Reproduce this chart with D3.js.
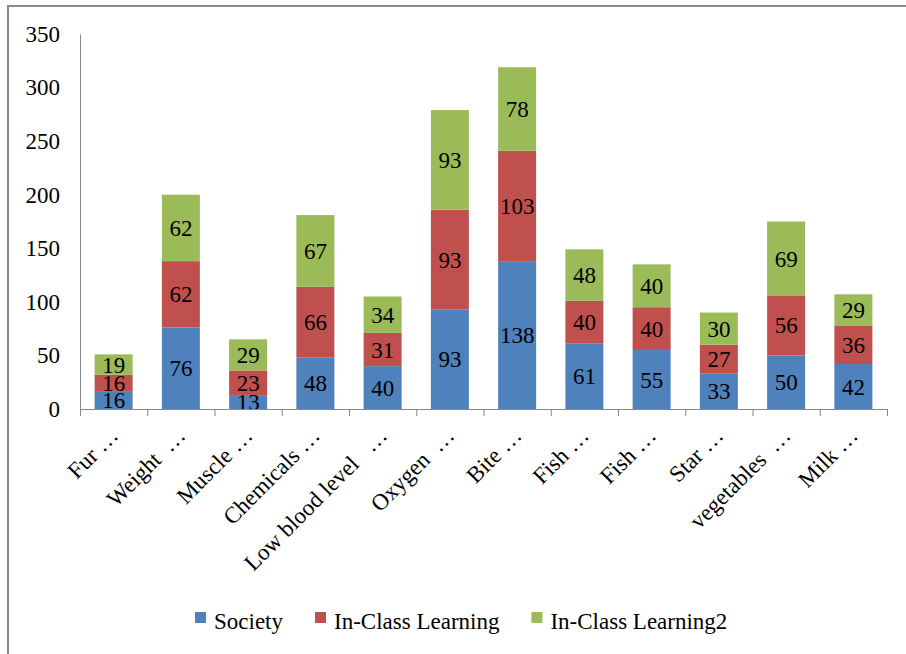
<!DOCTYPE html>
<html>
<head>
<meta charset="utf-8">
<script src="https://cdn.jsdelivr.net/npm/d3@7"></script>
<style>
  body { margin: 0; background: #fff; }
  svg text { font-family: "Liberation Serif", "Times New Roman", serif; }
</style>
</head>
<body>
<svg id="chart" width="906" height="654"></svg>
<script>
// data
var categories = ["Fur …", "Weight  …", "Muscle …", "Chemicals …", "Low blood level   …", "Oxygen  …",
  "Bite …", "Fish …", "Fish …", "Star …", "vegetables  …", "Milk …"];
var society = [16, 76, 13, 48, 40, 93, 138, 61, 55, 33, 50, 42];
var inClass = [16, 62, 23, 66, 31, 93, 103, 40, 40, 27, 56, 36];
var inClass2 = [19, 62, 29, 67, 34, 93, 78, 48, 40, 30, 69, 29];
var seriesNames = ["Society", "In-Class Learning", "In-Class Learning2"];
var yTicks = [0, 50, 100, 150, 200, 250, 300, 350];

function drawChart() {
  var colors = ["#4F81BD", "#C0504D", "#9BBB59"];
  var svg = d3.select("#chart");

  // outer frame (only top and left edges show in the window)
  svg.append("rect")
    .attr("x", 8).attr("y", 6)
    .attr("width", 940).attr("height", 700)
    .attr("fill", "none")
    .attr("stroke", "#898989")
    .attr("stroke-width", 2);

  var plotLeft = 80, plotRight = 887, plotTop = 34, plotBottom = 409;

  var rows = categories.map(function (c, i) {
    return { i: i, cat: c, s0: society[i], s1: inClass[i], s2: inClass2[i] };
  });

  var x = d3.scaleBand()
    .domain(d3.range(categories.length))
    .range([plotLeft, plotRight])
    .paddingInner(0.435)
    .paddingOuter(0.2175);

  var y = d3.scaleLinear().domain([0, 350]).range([plotBottom, plotTop]);

  var layers = d3.stack().keys(["s0", "s1", "s2"])(rows);

  var g = svg.append("g");
  layers.forEach(function (layer, k) {
    g.selectAll(".bar" + k)
      .data(layer)
      .enter().append("rect")
      .attr("class", "bar" + k)
      .attr("x", function (d, i) { return x(i); })
      .attr("y", function (d) { return y(d[1]); })
      .attr("width", x.bandwidth())
      .attr("height", function (d) { return y(d[0]) - y(d[1]); })
      .attr("fill", colors[k]);
  });
  layers.forEach(function (layer, k) {
    g.selectAll(".lab" + k)
      .data(layer)
      .enter().append("text")
      .attr("class", "lab" + k)
      .attr("x", function (d, i) { return x(i) + x.bandwidth() / 2; })
      .attr("y", function (d) { return (y(d[0]) + y(d[1])) / 2; })
      .attr("dy", "0.35em")
      .attr("text-anchor", "middle")
      .style("font-size", "23px")
      .style("fill", "#000")
      .text(function (d) { return d[1] - d[0]; });
  });

  // y axis
  var yAxis = svg.append("g")
    .attr("transform", "translate(" + plotLeft + ",0)")
    .call(d3.axisLeft(y).tickValues(yTicks).tickSize(0).tickPadding(20));
  yAxis.select(".domain").attr("stroke", "#888");
  yAxis.selectAll("text")
    .style("font-size", "23px")
    .attr("fill", "#000");

  // x axis: ticks at category boundaries
  var xb = d3.scaleLinear().domain([0, categories.length]).range([plotLeft, plotRight]);
  var xAxis = svg.append("g")
    .attr("transform", "translate(0," + plotBottom + ")")
    .call(d3.axisBottom(xb).ticks(categories.length).tickSize(7).tickFormat(""));
  xAxis.select(".domain").attr("stroke", "#888");
  xAxis.selectAll(".tick line").attr("stroke", "#888");

  svg.selectAll(".xlab")
    .data(categories)
    .enter().append("text")
    .attr("class", "xlab")
    .attr("transform", function (d, i) {
      var cx = x(i) + x.bandwidth() / 2 + 6;
      return "translate(" + cx + "," + (plotBottom + 28) + ") rotate(-45)";
    })
    .attr("text-anchor", "end")
    .style("font-size", "23px")
    .style("white-space", "pre")
    .text(function (d) { return d; });

  // legend
  var lx = 195;
  seriesNames.forEach(function (name, k) {
    svg.append("rect")
      .attr("x", lx).attr("y", 612)
      .attr("width", 11).attr("height", 11)
      .attr("fill", colors[k]);
    var t = svg.append("text")
      .attr("x", lx + 19).attr("y", 629)
      .style("font-size", "23px")
      .text(name);
    lx += 19 + t.node().getComputedTextLength() + 32;
  });
}

drawChart();
</script>
</body>
</html>
